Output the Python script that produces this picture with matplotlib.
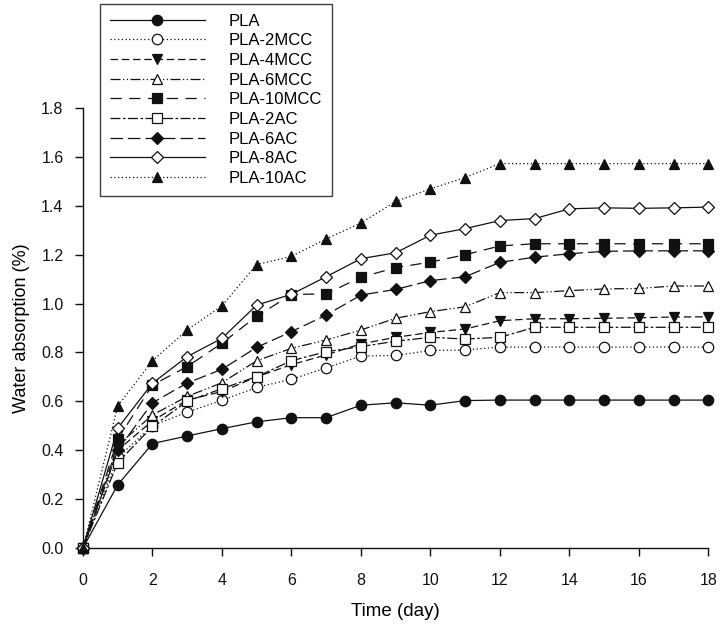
import matplotlib.pyplot as plt

plt.rcParams["font.family"] = ["Liberation Sans", "DejaVu Sans"]

DAYS = list(range(0, 19))

LABELS = ["PLA", "PLA-2MCC", "PLA-4MCC", "PLA-6MCC", "PLA-10MCC",
          "PLA-2AC", "PLA-6AC", "PLA-8AC", "PLA-10AC"]

PLA = [0, 0.258, 0.427, 0.458, 0.488, 0.516, 0.533, 0.533, 0.584, 0.594,
       0.584, 0.603, 0.605, 0.605, 0.605, 0.605, 0.605, 0.605, 0.605]
PLA_2MCC = [0, 0.37, 0.50, 0.556, 0.604, 0.657, 0.69, 0.737, 0.785, 0.788,
            0.808, 0.81, 0.822, 0.822, 0.822, 0.822, 0.822, 0.822, 0.822]
PLA_4MCC = [0, 0.40, 0.52, 0.605, 0.64, 0.70, 0.75, 0.79, 0.835, 0.862,
            0.882, 0.896, 0.93, 0.938, 0.938, 0.94, 0.942, 0.945, 0.946]
PLA_6MCC = [0, 0.42, 0.544, 0.62, 0.676, 0.766, 0.817, 0.851, 0.892, 0.94,
            0.967, 0.987, 1.045, 1.045, 1.053, 1.06, 1.062, 1.072, 1.072]
PLA_10MCC = [0, 0.445, 0.667, 0.742, 0.838, 0.948, 1.037, 1.04, 1.108, 1.147,
             1.17, 1.2, 1.236, 1.245, 1.245, 1.245, 1.245, 1.245, 1.245]
PLA_2AC = [0, 0.349, 0.497, 0.6, 0.652, 0.701, 0.766, 0.803, 0.824, 0.846,
           0.862, 0.855, 0.862, 0.903, 0.903, 0.903, 0.903, 0.903, 0.903]
PLA_6AC = [0, 0.401, 0.594, 0.675, 0.731, 0.821, 0.885, 0.953, 1.035, 1.058,
           1.094, 1.11, 1.169, 1.19, 1.204, 1.214, 1.216, 1.216, 1.216]
PLA_8AC = [0, 0.49, 0.674, 0.783, 0.858, 0.994, 1.038, 1.11, 1.184, 1.208,
           1.28, 1.307, 1.34, 1.348, 1.388, 1.392, 1.39, 1.392, 1.395]
PLA_10AC = [0, 0.581, 0.766, 0.892, 0.991, 1.16, 1.193, 1.265, 1.33, 1.418,
            1.47, 1.516, 1.573, 1.573, 1.573, 1.573, 1.573, 1.573, 1.573]

SERIES = [PLA, PLA_2MCC, PLA_4MCC, PLA_6MCC, PLA_10MCC,
          PLA_2AC, PLA_6AC, PLA_8AC, PLA_10AC]

# (marker, filled, linestyle)
STYLES = [
    ("o", True, "-"),
    ("o", False, (0, (1, 2))),
    ("v", True, (0, (6, 3))),
    ("^", False, (0, (8, 2, 1, 2, 1, 2))),
    ("s", True, (0, (9, 6))),
    ("s", False, (0, (8, 2, 2, 2))),
    ("D", True, (0, (10, 4))),
    ("D", False, "-"),
    ("^", True, (0, (1, 2))),
]

INK = "#111111"


def main() -> int:
    fig = plt.figure(figsize=(7.28, 6.29), dpi=100)
    ax = fig.add_axes([0.114, 0.129, 0.859, 0.699])

    for label, vals, (mk, filled, ls) in zip(LABELS, SERIES, STYLES):
        size = 6.5 if mk == "D" else 7.5
        ax.plot(DAYS, vals, linestyle=ls, color=INK, linewidth=0.9,
                marker=mk, markersize=size, markeredgecolor=INK,
                markeredgewidth=0.9,
                markerfacecolor=INK if filled else "white",
                label=label, clip_on=False, zorder=3)

    ax.set_xlim(0, 18)
    ax.set_ylim(0, 1.8)
    ax.set_xticks(range(0, 19, 2))
    ax.set_yticks([i / 5 for i in range(10)])
    ax.set_yticklabels([f"{i / 5:.1f}" for i in range(10)])
    ax.spines["top"].set_visible(False)
    ax.spines["right"].set_visible(False)
    for s in ("left", "bottom"):
        ax.spines[s].set_linewidth(1.0)
        ax.spines[s].set_color(INK)
    ax.tick_params(direction="out", length=6, width=1.0, labelsize=11.5,
                   colors=INK, pad=8)
    ax.tick_params(axis="x", pad=12)

    ax.set_xlabel("Time (day)", fontsize=13.5, labelpad=11)
    ax.set_ylabel("Water absorption (%)", fontsize=13, labelpad=8)

    leg = ax.legend(loc="upper left", bbox_to_anchor=(0.027, 1.238),
                    fontsize=12, frameon=True, fancybox=False,
                    handlelength=5.7, handletextpad=1.4, labelspacing=0.28,
                    borderpad=0.6, borderaxespad=0)
    leg.get_frame().set_edgecolor(INK)
    leg.get_frame().set_linewidth(1.0)

    fig.savefig("out.png", dpi=100)
    plt.close(fig)
    return 0


if __name__ == "__main__":
    raise SystemExit(main())
